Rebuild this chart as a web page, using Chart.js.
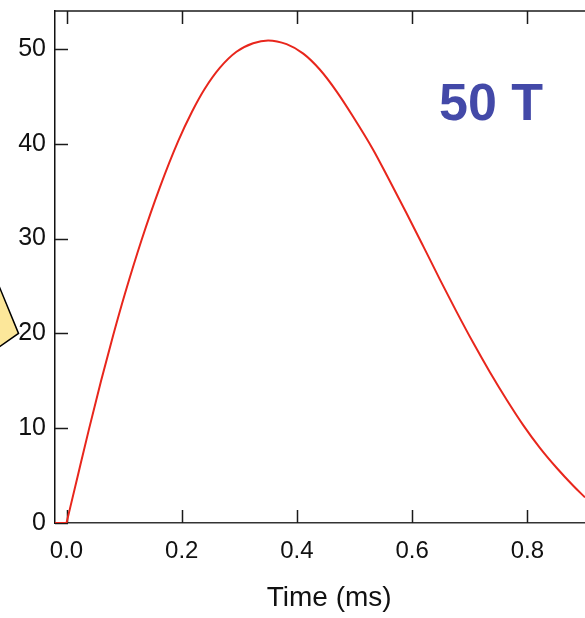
<!DOCTYPE html>
<html>
<head>
<meta charset="utf-8">
<script src="https://cdn.jsdelivr.net/npm/chart.js@4/dist/chart.umd.min.js"></script>
<style>
  html, body { margin: 0; padding: 0; background: #ffffff; }
  #wrap { width: 585px; height: 618px; }
</style>
</head>
<body>
<div id="wrap"><canvas id="c" width="585" height="618"></canvas></div>
<script>
// ---- data ----
const timeMs = [-0.02, 0, 0.02, 0.039, 0.06, 0.081, 0.101, 0.13, 0.162, 0.194, 0.218, 0.24, 0.266, 0.295, 0.324, 0.35, 0.382, 0.411, 0.44, 0.469, 0.497, 0.532, 0.56, 0.59, 0.62, 0.648, 0.676, 0.706, 0.735, 0.764, 0.793, 0.822, 0.851, 0.88, 0.9];
const fieldT = [0, 0, 5.1, 9.9, 15.0, 19.8, 24.1, 29.8, 35.4, 40.3, 43.4, 45.8, 48.0, 49.7, 50.6, 50.9, 50.5, 49.5, 47.8, 45.5, 42.9, 39.4, 36.2, 32.7, 29.1, 25.7, 22.4, 19.0, 15.9, 13.0, 10.3, 7.9, 5.8, 3.9, 2.7];
const xTickValues = [0, 0.2, 0.4, 0.6, 0.8];
const xTickLabels = ['0.0', '0.2', '0.4', '0.6', '0.8'];
const yTickValues = [0, 10, 20, 30, 40, 50];
const yTickLabels = ['0', '10', '20', '30', '40', '50'];
const xAxisTitle = 'Time (ms)';
const annotationText = '50 T';

const allPoints = timeMs.map((t, i) => ({ x: t, y: fieldT[i] }));
// pre-pulse baseline (t <= 0) and the pulse itself (t >= 0)
const baselinePoints = allPoints.filter(p => p.x <= 0);
const pulsePoints = allPoints.filter(p => p.x >= 0);

const FONT = '"Liberation Sans", Arial, Helvetica, sans-serif';

const frame = {
  id: 'frame',
  beforeDatasetsDraw(chart) {
    const { ctx, chartArea: a, scales: { x, y } } = chart;
    ctx.save();
    ctx.strokeStyle = '#1a1a1a';
    ctx.lineWidth = 1.5;
    ctx.beginPath();
    ctx.moveTo(a.left, a.top);
    ctx.lineTo(a.right, a.top);
    ctx.stroke();
    const tl = 13;
    x.ticks.forEach(tk => {
      const px = Math.round(x.getPixelForValue(tk.value)) + 0.5;
      ctx.beginPath();
      ctx.moveTo(px, a.bottom);
      ctx.lineTo(px, a.bottom - tl);
      ctx.moveTo(px, a.top);
      ctx.lineTo(px, a.top + tl);
      ctx.stroke();
    });
    y.ticks.forEach(tk => {
      const py = Math.round(y.getPixelForValue(tk.value)) + 0.5;
      ctx.beginPath();
      ctx.moveTo(a.left, py);
      ctx.lineTo(a.left + tl, py);
      ctx.stroke();
    });
    ctx.restore();
  },
  afterDraw(chart) {
    const { ctx, chartArea: a, scales: { x, y } } = chart;
    ctx.save();
    // axis title
    ctx.fillStyle = '#111111';
    ctx.font = '28px ' + FONT;
    ctx.textAlign = 'center';
    ctx.textBaseline = 'middle';
    ctx.fillText(xAxisTitle, x.getPixelForValue(0.456), 598);
    // field label
    ctx.fillStyle = '#4349a8';
    ctx.font = 'bold 52px ' + FONT;
    ctx.fillText(annotationText, x.getPixelForValue(0.737), y.getPixelForValue(44.0));
    // partially visible yellow callout at left edge
    const tipX = a.left - 36.5;
    const tipY = y.getPixelForValue(20);
    ctx.beginPath();
    ctx.moveTo(tipX, tipY);
    ctx.lineTo(tipX - 30, tipY - 73);
    ctx.lineTo(tipX - 80, tipY - 22);
    ctx.lineTo(tipX - 40, tipY + 28);
    ctx.closePath();
    ctx.fillStyle = '#fce79a';
    ctx.fill();
    ctx.strokeStyle = '#000000';
    ctx.lineWidth = 1.5;
    ctx.stroke();
    ctx.restore();
  }
};

const lineStyle = {
  borderColor: '#e8261c',
  borderWidth: 2,
  pointRadius: 0,
  fill: false,
  cubicInterpolationMode: 'monotone'
};

new Chart(document.getElementById('c'), {
  type: 'line',
  data: {
    datasets: [
      Object.assign({ data: baselinePoints }, lineStyle),
      Object.assign({ data: pulsePoints }, lineStyle)
    ]
  },
  options: {
    responsive: false,
    animation: false,
    events: [],
    layout: { padding: { top: 11, right: 0, left: 0, bottom: 0 } },
    plugins: { legend: { display: false }, tooltip: { enabled: false } },
    scales: {
      x: {
        type: 'linear',
        min: -0.02,
        max: 0.9,
        afterBuildTicks: s => { s.ticks = xTickValues.map(v => ({ value: v })); },
        afterFit: s => { s.height = 95; s.paddingLeft = 0; s.paddingRight = 0; },
        grid: { display: false, drawTicks: false },
        border: { display: true, color: '#333333', width: 1.5 },
        ticks: {
          autoSkip: false,
          maxRotation: 0,
          padding: 14,
          color: '#111111',
          font: { family: FONT, size: 24 },
          callback: v => xTickLabels[xTickValues.indexOf(v)]
        },
        title: { display: false }
      },
      y: {
        type: 'linear',
        min: 0,
        max: 54,
        afterBuildTicks: s => { s.ticks = yTickValues.map(v => ({ value: v })); },
        afterFit: s => { s.width = 55; s.paddingTop = 0; s.paddingBottom = 0; },
        grid: { display: false, drawTicks: false },
        border: { display: true, color: '#111111', width: 1.5 },
        ticks: {
          autoSkip: false,
          padding: 9,
          color: '#111111',
          font: { family: FONT, size: 25 },
          callback: v => yTickLabels[yTickValues.indexOf(v)]
        }
      }
    }
  },
  plugins: [frame]
});
</script>
</body>
</html>
